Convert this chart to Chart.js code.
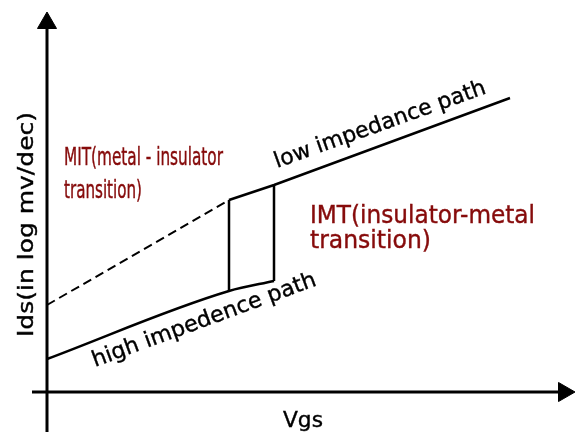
<!DOCTYPE html>
<html>
<head>
<meta charset="utf-8">
<script src="https://cdn.jsdelivr.net/npm/chart.js@4.4.1/dist/chart.umd.min.js"></script>
<style>
  html, body { margin: 0; padding: 0; background: #fff; }
  #wrap { width: 579px; height: 434px; }
</style>
</head>
<body>
<div id="wrap"><canvas id="c" width="579" height="434"></canvas></div>
<script>
// Schematic Ids–Vgs hysteresis of a phase-transition device (arbitrary units)
const vgsMIT  = [0, 182];            // dashed MIT branch
const idsMIT  = [87, 192];
const vgsLow  = [182, 227, 463];     // low impedance (metallic) branch
const idsLow  = [192, 207, 294];
const vgsHigh = [0, 182, 227];       // high impedance (insulating) branch
const idsHigh = [33, 101, 111];
const vgsJumpDown = [182, 182];      // vertical transition at lower Vgs
const idsJumpDown = [192, 101];
const vgsJumpUp   = [227, 227];      // vertical transition at higher Vgs
const idsJumpUp   = [207, 111];

const axisX = { from: -15, to: 511, arrow: 517 };
const axisY = { from: -40, to: 364, arrow: 369 };

const RED = '#860b0b';
const INK = '#000';

const pts = (xs, ys) => xs.map((x, i) => ({ x, y: ys[i] }));

const lineDs = (data, extra) => Object.assign({
  data, showLine: true, borderColor: INK, borderWidth: 2.5,
  pointRadius: 0, fill: false, tension: 0
}, extra || {});

// text drawn in data coordinates; width = rendered advance to fit
const NARROW = '"Liberation Sans Narrow", "DejaVu Sans Condensed", sans-serif';
const SANS = '"DejaVu Sans", sans-serif';
const labels = [
  { text: 'MIT(metal - insulator', x: 17, y: 227, font: '24px ' + NARROW, width: 159, color: RED, angle: 0 },
  { text: 'transition)',           x: 17, y: 194, font: '24px ' + NARROW, width: 78, color: RED, angle: 0 },
  { text: 'IMT(insulator-metal',   x: 263, y: 169, font: '24px ' + SANS, width: 225, color: RED, angle: 0 },
  { text: 'transition)',           x: 263, y: 144, font: '24px ' + SANS, width: 121, color: RED, angle: 0 },
  { text: 'low impedance path',    x: 230, y: 224, font: '22px ' + SANS, width: 223, color: INK, angle: -19.6 },
  { text: 'high impedence path',   x: 48,  y: 25,  font: '22px ' + SANS, width: 237, color: INK, angle: -20.2 },
  { text: 'Vgs',                   x: 236, y: -35, font: '22px ' + SANS, width: 40,  color: INK, angle: 0 },
  { text: 'Ids(in log mv/dec)',    x: -14, y: 55,  font: '21px ' + SANS, width: 225, color: INK, angle: -90 }
];

const textPlugin = {
  id: 'schematicText',
  afterDatasetsDraw(chart) {
    const { ctx, scales } = chart;
    labels.forEach(l => {
      const px = scales.x.getPixelForValue(l.x);
      const py = scales.y.getPixelForValue(l.y);
      ctx.save();
      ctx.font = l.font;
      ctx.fillStyle = l.color;
      ctx.strokeStyle = l.color;
      ctx.lineWidth = 0.4;
      ctx.textBaseline = 'alphabetic';
      ctx.textAlign = 'left';
      ctx.translate(px, py);
      ctx.rotate(l.angle * Math.PI / 180);
      const w = ctx.measureText(l.text).width;
      ctx.scale(l.width / w, 1);
      ctx.fillText(l.text, 0, 0);
      ctx.strokeText(l.text, 0, 0);
      ctx.restore();
    });
  }
};

new Chart(document.getElementById('c'), {
  type: 'scatter',
  data: {
    datasets: [
      lineDs(pts([axisX.from, axisX.to], [0, 0]), { borderWidth: 3 }),
      lineDs(pts([0, 0], [axisY.from, axisY.to]), { borderWidth: 3 }),
      { data: [{ x: 0, y: axisY.arrow }], pointStyle: 'triangle', pointRadius: 11,
        rotation: 0, backgroundColor: INK, borderColor: INK, borderWidth: 1 },
      { data: [{ x: axisX.arrow, y: 0 }], pointStyle: 'triangle', pointRadius: 11,
        rotation: 90, backgroundColor: INK, borderColor: INK, borderWidth: 1 },
      lineDs(pts(vgsMIT, idsMIT), { borderDash: [9, 5], borderWidth: 2 }),
      lineDs(pts(vgsLow, idsLow)),
      lineDs(pts(vgsHigh, idsHigh), { cubicInterpolationMode: 'monotone' }),
      lineDs(pts(vgsJumpDown, idsJumpDown)),
      lineDs(pts(vgsJumpUp, idsJumpUp))
    ]
  },
  options: {
    responsive: false,
    animation: false,
    layout: { padding: 0, autoPadding: false },
    plugins: { legend: { display: false }, tooltip: { enabled: false } },
    scales: {
      x: { type: 'linear', min: -47, max: 532, display: false },
      y: { type: 'linear', min: -42, max: 392, display: false }
    }
  },
  plugins: [textPlugin]
});
</script>
</body>
</html>
